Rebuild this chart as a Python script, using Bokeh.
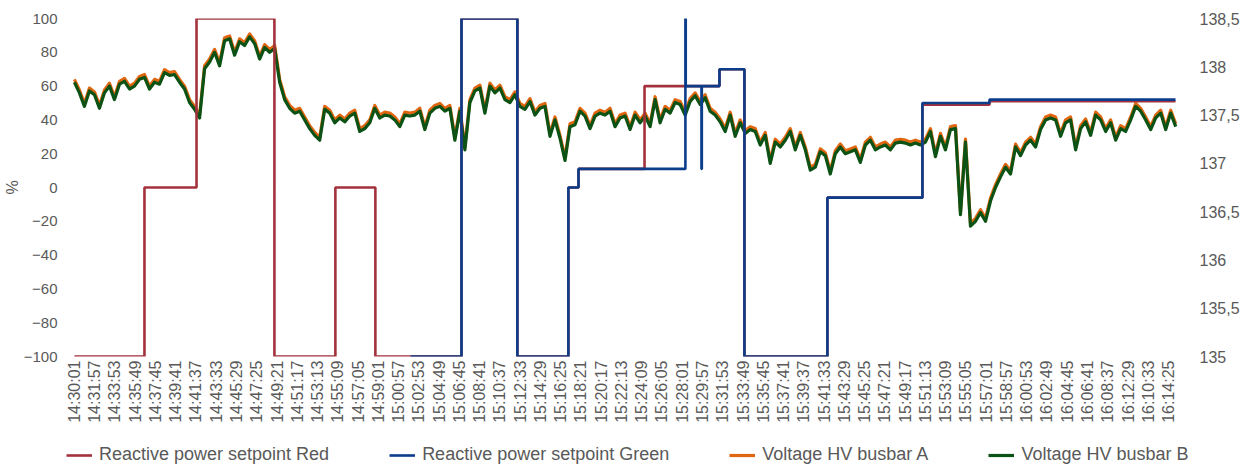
import numpy as np
from math import pi
from bokeh.plotting import figure
from bokeh.layouts import column
from bokeh.models import (Range1d, LinearAxis, FixedTicker, Legend, LegendItem,
                          ColumnDataSource)
from bokeh.embed import file_html
from bokeh.resources import INLINE

# ---------------- data ----------------
time_labels = [
    "14:30:01", "14:31:57", "14:33:53", "14:35:49", "14:37:45", "14:39:41",
    "14:41:37", "14:43:33", "14:45:29", "14:47:25", "14:49:21", "14:51:17",
    "14:53:13", "14:55:09", "14:57:05", "14:59:01", "15:00:57", "15:02:53",
    "15:04:49", "15:06:45", "15:08:41", "15:10:37", "15:12:33", "15:14:29",
    "15:16:25", "15:18:21", "15:20:17", "15:22:13", "15:24:09", "15:26:05",
    "15:28:01", "15:29:57", "15:31:53", "15:33:49", "15:35:45", "15:37:41",
    "15:39:37", "15:41:33", "15:43:29", "15:45:25", "15:47:21", "15:49:17",
    "15:51:13", "15:53:09", "15:55:05", "15:57:01", "15:58:57", "16:00:53",
    "16:02:49", "16:04:45", "16:06:41", "16:08:37", "16:12:29", "16:10:33",
    "16:14:25",
]
label_step_s = 116          # seconds between shown time labels
sample_s = 28.66            # seconds between voltage samples

# Reactive power setpoints (%), step changes: time in s since 14:30:01
red_t = [0, 401, 699, 1145, 1494, 1723, 2216, 2536, 2828, 2886, 3264, 3693,
         3836, 4311, 4855, 5239, 6304]
red_v = [-100, 0, 100, -100, 0, -100, 100, -100, 0, 11, 60, 70,
         -100, -6, 49, 51, 51]

green_t = [1924, 2216, 2536, 2828, 2886, 3498, 3500, 3590, 3592, 3693, 3836,
           4311, 4855, 5239, 6304]
green_v = [-100, 100, -100, 0, 11, 100, 60, 11, 60, 70, -100,
           -6, 50, 52, 52]

# Voltages (kV)
volt_a = [
    137.87, 137.76, 137.62, 137.78, 137.74, 137.60, 137.76, 137.83, 137.69, 137.85,
    137.88, 137.80, 137.83, 137.90, 137.92, 137.80, 137.87, 137.85, 137.97, 137.94,
    137.95, 137.87, 137.80, 137.66, 137.59, 137.50, 138.01, 138.08, 138.18, 138.04,
    138.30, 138.32, 138.15, 138.29, 138.25, 138.34, 138.27, 138.11, 138.23, 138.18,
    138.22, 137.87, 137.69, 137.60, 137.55, 137.57, 137.48, 137.39, 137.32, 137.27,
    137.59, 137.55, 137.45, 137.50, 137.46, 137.52, 137.55, 137.36, 137.39, 137.45,
    137.60, 137.50, 137.53, 137.52, 137.48, 137.41, 137.53, 137.52, 137.53, 137.57,
    137.38, 137.55, 137.60, 137.62, 137.57, 137.60, 137.27, 137.57, 137.17, 137.66,
    137.78, 137.81, 137.55, 137.83, 137.76, 137.81, 137.69, 137.66, 137.74, 137.62,
    137.59, 137.67, 137.53, 137.60, 137.62, 137.31, 137.48, 137.29, 137.06, 137.41,
    137.43, 137.57, 137.52, 137.39, 137.52, 137.55, 137.53, 137.57, 137.41, 137.50,
    137.52, 137.38, 137.53, 137.45, 137.52, 137.41, 137.69, 137.45, 137.59, 137.55,
    137.66, 137.64, 137.53, 137.67, 137.73, 137.64, 137.71, 137.57, 137.53, 137.46,
    137.36, 137.53, 137.31, 137.45, 137.34, 137.38, 137.36, 137.22, 137.32, 137.03,
    137.25, 137.20, 137.27, 137.36, 137.17, 137.32, 137.17, 136.96, 136.99, 137.15,
    137.11, 136.92, 137.13, 137.20, 137.13, 137.15, 137.17, 137.04, 137.22, 137.27,
    137.17, 137.20, 137.22, 137.17, 137.24, 137.25, 137.24, 137.22, 137.24, 137.22,
    137.25, 137.36, 137.10, 137.31, 137.17, 137.38, 137.39, 136.50, 137.25, 136.38,
    136.43, 136.52, 136.43, 136.64, 136.78, 136.89, 136.99, 136.92, 137.20, 137.11,
    137.22, 137.27, 137.20, 137.38, 137.48, 137.50, 137.48, 137.31, 137.45, 137.48,
    137.17, 137.39, 137.46, 137.32, 137.53, 137.48, 137.36, 137.45, 137.27, 137.39,
    137.36, 137.48, 137.62, 137.57, 137.48, 137.38, 137.50, 137.55, 137.38, 137.55,
    137.41,
]
volt_b = [
    137.84, 137.73, 137.59, 137.75, 137.71, 137.57, 137.73, 137.80, 137.66, 137.82,
    137.85, 137.77, 137.80, 137.87, 137.89, 137.77, 137.84, 137.82, 137.94, 137.91,
    137.92, 137.84, 137.77, 137.63, 137.56, 137.47, 137.98, 138.05, 138.15, 138.01,
    138.27, 138.29, 138.12, 138.26, 138.22, 138.31, 138.24, 138.08, 138.20, 138.15,
    138.19, 137.84, 137.66, 137.57, 137.52, 137.54, 137.45, 137.36, 137.29, 137.24,
    137.56, 137.52, 137.42, 137.47, 137.43, 137.49, 137.52, 137.33, 137.36, 137.42,
    137.57, 137.47, 137.50, 137.49, 137.45, 137.38, 137.50, 137.49, 137.50, 137.54,
    137.35, 137.52, 137.57, 137.59, 137.54, 137.57, 137.24, 137.54, 137.14, 137.63,
    137.75, 137.78, 137.52, 137.80, 137.73, 137.78, 137.66, 137.63, 137.71, 137.59,
    137.56, 137.64, 137.50, 137.57, 137.59, 137.28, 137.45, 137.26, 137.03, 137.38,
    137.40, 137.54, 137.49, 137.36, 137.49, 137.52, 137.50, 137.54, 137.38, 137.47,
    137.49, 137.35, 137.50, 137.42, 137.49, 137.38, 137.66, 137.42, 137.56, 137.52,
    137.63, 137.61, 137.50, 137.64, 137.70, 137.61, 137.68, 137.54, 137.50, 137.43,
    137.33, 137.50, 137.28, 137.42, 137.31, 137.35, 137.33, 137.19, 137.29, 137.00,
    137.22, 137.17, 137.24, 137.33, 137.14, 137.29, 137.14, 136.93, 136.96, 137.12,
    137.08, 136.89, 137.10, 137.17, 137.10, 137.12, 137.14, 137.01, 137.19, 137.24,
    137.14, 137.17, 137.19, 137.14, 137.21, 137.22, 137.21, 137.19, 137.21, 137.19,
    137.22, 137.33, 137.07, 137.28, 137.14, 137.35, 137.36, 136.47, 137.22, 136.35,
    136.40, 136.49, 136.40, 136.61, 136.75, 136.86, 136.96, 136.89, 137.17, 137.08,
    137.19, 137.24, 137.17, 137.35, 137.45, 137.47, 137.45, 137.28, 137.42, 137.45,
    137.14, 137.36, 137.43, 137.29, 137.50, 137.45, 137.33, 137.42, 137.24, 137.36,
    137.33, 137.45, 137.59, 137.54, 137.45, 137.35, 137.47, 137.52, 137.35, 137.52,
    137.38,
]

pct_ticks = [-100, -80, -60, -40, -20, 0, 20, 40, 60, 80, 100]
kv_ticks = [135, 135.5, 136, 136.5, 137, 137.5, 138, 138.5]
kv_tick_labels = ["135", "135,5", "136", "136,5", "137", "137,5", "138", "138,5"]

series_names = ["Reactive power setpoint Red", "Reactive power setpoint Green",
                "Voltage HV busbar A", "Voltage HV busbar B"]

# ---------------- styles ----------------
C_RED = "#a3323c"
C_BLUE = "#0c3d8a"
C_ORANGE = "#e0660f"
C_GREEN = "#0b5214"
TXT = "#595959"
FONT = "Liberation Sans"

t_samples = np.arange(len(volt_b)) * sample_s
vsrc = ColumnDataSource(dict(t=t_samples, a=volt_a, b=volt_b))

p = figure(frame_width=1110, frame_height=338, output_backend="svg",
           toolbar_location=None,
           x_range=Range1d(-11, 6344), y_range=Range1d(-100, 100),
           min_border_left=70, min_border_right=0, min_border_top=18,
           min_border_bottom=0)
p.extra_y_ranges = {"kv": Range1d(135, 138.5)}
p.outline_line_color = None
p.xgrid.visible = False
p.ygrid.visible = False
p.background_fill_color = "white"
p.border_fill_color = "white"

p.line("t", "a", source=vsrc, y_range_name="kv", color=C_ORANGE,
       line_width=3.2, line_join="round")
p.line("t", "b", source=vsrc, y_range_name="kv", color=C_GREEN,
       line_width=3.2, line_join="round")
p.step(red_t, red_v, mode="after", color=C_RED, line_width=2.6)
p.step(green_t, green_v, mode="after", color=C_BLUE, line_width=2.6)


def plain_axis(ax, size="15px", standoff=8):
    ax.axis_line_color = None
    ax.major_tick_line_color = None
    ax.minor_tick_line_color = None
    ax.major_tick_out = 0
    ax.major_tick_in = 0
    ax.minor_tick_out = 0
    ax.minor_tick_in = 0
    ax.major_label_text_font = FONT
    ax.major_label_text_font_size = size
    ax.major_label_text_color = TXT
    ax.major_label_standoff = standoff


# x axis
xa = p.xaxis[0]
ticks_x = [i * label_step_s for i in range(len(time_labels))]
xa.ticker = FixedTicker(ticks=ticks_x)
xa.major_label_overrides = {t: lab for t, lab in zip(ticks_x, time_labels)}
xa.major_label_orientation = pi / 2
plain_axis(xa, "16px", 4)

# left axis
ya = p.yaxis[0]
ya.ticker = FixedTicker(ticks=pct_ticks)
plain_axis(ya, "15px", 15)
ya.axis_label = "%"
ya.axis_label_text_font = FONT
ya.axis_label_text_font_style = "normal"
ya.axis_label_text_font_size = "16px"
ya.axis_label_text_color = TXT
ya.axis_label_standoff = 0

# right axis
ra = LinearAxis(y_range_name="kv", ticker=FixedTicker(ticks=kv_ticks))
ra.major_label_overrides = {t: lab for t, lab in zip(kv_ticks, kv_tick_labels)}
plain_axis(ra, "16px", 17)
p.add_layout(ra, "right")

# ---------------- legend strip (below the chart) ----------------
# the same series are drawn here but outside the visible y range, so only
# the legend keys of this strip are seen
lg = figure(frame_width=1237, frame_height=28, output_backend="svg",
            toolbar_location=None, x_axis_location=None, y_axis_location=None,
            x_range=Range1d(-11, 6344), y_range=Range1d(1000, 1001),
            min_border_left=0, min_border_right=0, min_border_top=16,
            min_border_bottom=0)
lg.outline_line_color = None
lg.grid.visible = False
lg.background_fill_color = "white"
lg.border_fill_color = "white"

k_red = lg.step(red_t, red_v, mode="after", color=C_RED, line_width=2.6)
k_green = lg.step(green_t, green_v, mode="after", color=C_BLUE, line_width=2.6)
k_a = lg.line("t", "a", source=vsrc, color=C_ORANGE, line_width=3.2)
k_b = lg.line("t", "b", source=vsrc, color=C_GREEN, line_width=3.2)

legend = Legend(items=[
    LegendItem(label=series_names[0], renderers=[k_red]),
    LegendItem(label=series_names[1], renderers=[k_green]),
    LegendItem(label=series_names[2], renderers=[k_a]),
    LegendItem(label=series_names[3], renderers=[k_b]),
], orientation="horizontal", location=(66, 4), nrows=1)
legend.border_line_color = None
legend.background_fill_alpha = 0
legend.label_text_font = FONT
legend.label_text_font_size = "18px"
legend.label_text_color = TXT
legend.glyph_width = 26
legend.glyph_height = 18
legend.label_standoff = 7
legend.spacing = 60
legend.padding = 0
legend.margin = 0
legend.label_height = 18
lg.add_layout(legend, "center")

layout = column(p, lg, spacing=0)

html = file_html(layout, INLINE)
open("out.html", "w").write(html)
